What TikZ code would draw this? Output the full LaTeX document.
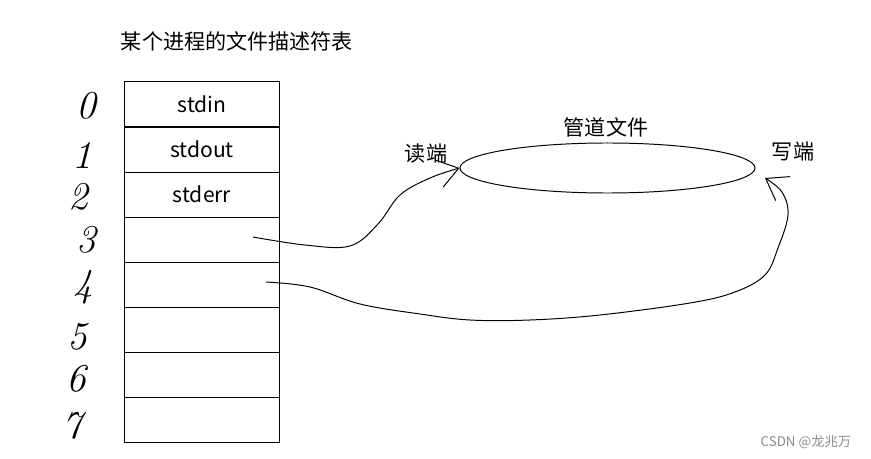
\documentclass[tikz,border=0pt]{standalone}
\usepackage{fontspec}
\newfontfamily\cjk{Noto Sans CJK SC}
\usetikzlibrary{arrows.meta,shapes.geometric}
\begin{document}
\begin{tikzpicture}[x=0.025cm, y=-0.025cm, >={Straight Barb[length=5mm,width=7mm]},
  slot/.style={draw, line width=0.7pt, minimum width=3.85cm, minimum height=1.125cm, inner sep=0pt, font=\cjk\fontsize{15}{18}\selectfont},
  fdnum/.style={inner sep=0pt, font=\itshape\fontsize{28}{28}\selectfont},
  label/.style={inner sep=0pt, font=\cjk\fontsize{15}{18}\selectfont},
  wire/.style={line width=0.7pt, ->}]
\useasboundingbox (0,0) rectangle (871,459);
\node[label] (title) at (237,41) {某个进程的文件描述符表};
% descriptor table
\node[slot] (fd0) at (202,104.5) {stdin};
\node[slot] (fd1) at (202,149.5) {stdout};
\node[slot] (fd2) at (202,194.5) {stderr};
\node[slot] (fd3) at (202,239.5) {};
\node[slot] (fd4) at (202,284.5) {};
\node[slot] (fd5) at (202,329.5) {};
\node[slot] (fd6) at (202,374.5) {};
\node[slot] (fd7) at (202,419.5) {};
% hand written numbers
\node[fdnum] (n0) at (86,106) {0};
\node[fdnum] (n1) at (82,155) {1};
\node[fdnum] (n2) at (78,197) {2};
\node[fdnum] (n3) at (86,240) {3};
\node[fdnum] (n4) at (83,287) {4};
\node[fdnum] (n5) at (77,337) {5};
\node[fdnum] (n6) at (76,379) {6};
\node[fdnum] (n7) at (72,426) {7};
% pipe
\node[draw, ellipse, line width=0.7pt, minimum width=7.375cm, minimum height=1.25cm, inner sep=0pt] (pipe) at (607.5,168) {};
\node[label] (pipename) at (606,127) {管道文件};
\node[label] (rd) at (426,154) {读端};
\node[label] (wr) at (793,152) {写端};
\coordinate (s3) at (253,237);
\coordinate (s4) at (266,282);
\coordinate (wend) at (765,178);
\draw[wire] plot[smooth, tension=0.6] coordinates {(s3) (305,245) (350,246) (378,224) (400,195) (430,178) (pipe.west)};
\draw[wire] plot[smooth, tension=0.6] coordinates {(s4) (310,287) (360,304) (420,314) (470,320) (530,320) (600,315) (690,303) (735,292) (765,275) (778,248) (788,215) (782,192) (wend)};
\node[inner sep=0pt, text=black!45, font=\cjk\fontsize{9.5}{11}\selectfont] (mark) at (806,442) {CSDN @龙兆万};
\end{tikzpicture}
\end{document}
